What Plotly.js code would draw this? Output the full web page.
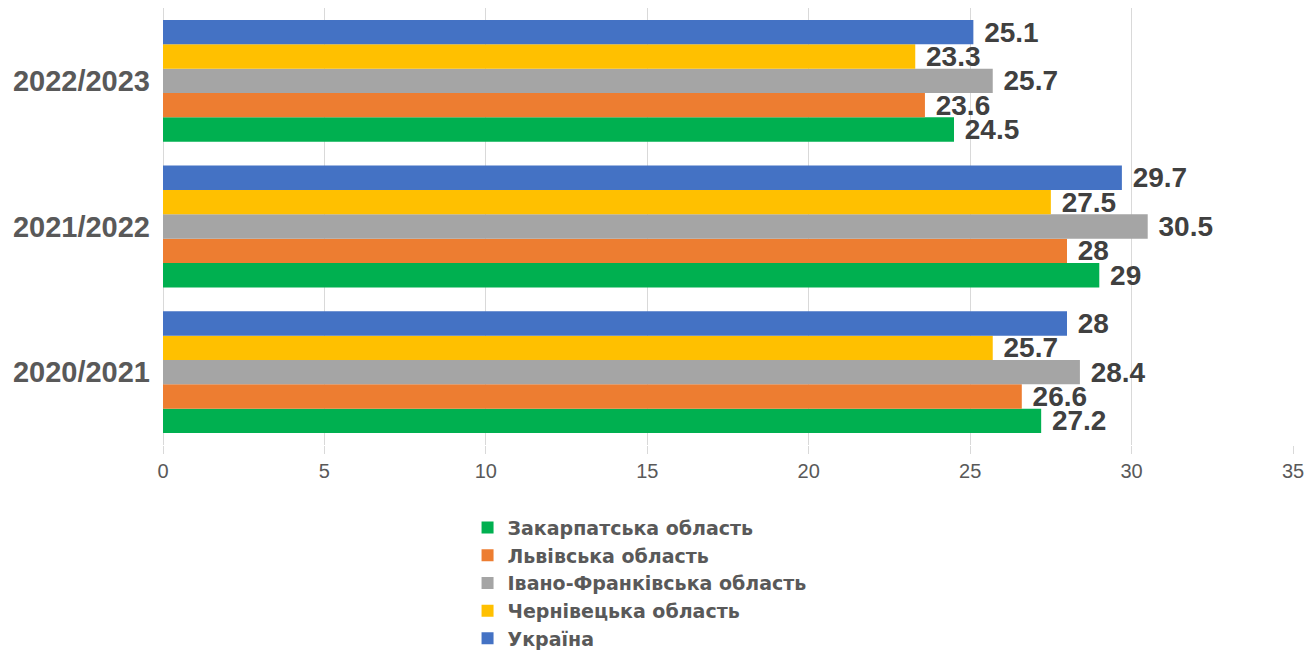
<!DOCTYPE html>
<html>
<head>
<meta charset="utf-8">
<script src="https://cdn.plot.ly/plotly-3.0.1.min.js"></script>
<style>html,body{margin:0;padding:0;background:#fff;}#chart{width:1306px;height:653px;}</style>
</head>
<body>
<div id="chart"></div>
<script>
const years = ["2020/2021", "2021/2022", "2022/2023"];
const seriesNames = ["Закарпатська область", "Львівська область", "Івано-Франківська область", "Чернівецька область", "Україна"];
const zakarpatska = [27.2, 29, 24.5];
const lvivska = [26.6, 28, 23.6];
const ivanoFrankivska = [28.4, 30.5, 25.7];
const chernivetska = [25.7, 27.5, 23.3];
const ukraina = [28, 29.7, 25.1];
const colors = ["#00B050", "#ED7D31", "#A5A5A5", "#FFC000", "#4472C4"];
const xTicks = [0, 5, 10, 15, 20, 25, 30, 35];

const allSeries = [zakarpatska, lvivska, ivanoFrankivska, chernivetska, ukraina];
const traces = allSeries.map((vals, i) => ({
  type: "bar",
  orientation: "h",
  name: seriesNames[i],
  y: years,
  x: vals,
  marker: {color: colors[i]},
  text: vals.map(v => "\u00a0" + v),
  texttemplate: "%{text}",
  textposition: "outside",
  constraintext: "none",
  cliponaxis: false,
  textfont: {family: "Liberation Sans, Arial, sans-serif", size: 28, color: "#404040", weight: "bold"},
  hoverinfo: "x+name"
}));

const layout = {
  width: 1306, height: 653,
  margin: {l: 163, r: 13, t: 8, b: 208, autoexpand: false},
  paper_bgcolor: "#ffffff",
  plot_bgcolor: "#ffffff",
  barmode: "group",
  bargap: 0.164,
  bargroupgap: 0,
  showlegend: true,
  legend: {
    xref: "container", yref: "container",
    x: 0.358, xanchor: "left",
    y: 0.221, yanchor: "top",
    orientation: "v",
    traceorder: "normal",
    bgcolor: "rgba(0,0,0,0)",
    font: {family: "DejaVu Sans, sans-serif", size: 19, color: "#595959", weight: "bold"},
    itemclick: false
  },
  xaxis: {
    range: [0, 35],
    tickvals: xTicks,
    ticktext: xTicks.map(String),
    showgrid: true,
    gridcolor: "#d9d9d9",
    gridwidth: 1,
    zeroline: true,
    zerolinecolor: "#d9d9d9",
    zerolinewidth: 1,
    showline: false,
    ticks: "outside",
    ticklen: 8,
    tickcolor: "#d9d9d9",
    tickfont: {family: "Liberation Sans, Arial, sans-serif", size: 20, color: "#595959"},
    fixedrange: true
  },
  yaxis: {
    type: "category",
    categoryorder: "array",
    categoryarray: years,
    showgrid: false,
    zeroline: false,
    showline: false,
    ticks: "",
    ticklabelstandoff: 12,
    tickfont: {family: "Liberation Sans, Arial, sans-serif", size: 29, color: "#595959", weight: "bold"},
    fixedrange: true
  }
};

Plotly.newPlot("chart", traces, layout, {displayModeBar: false, staticPlot: true});
</script>
</body>
</html>
